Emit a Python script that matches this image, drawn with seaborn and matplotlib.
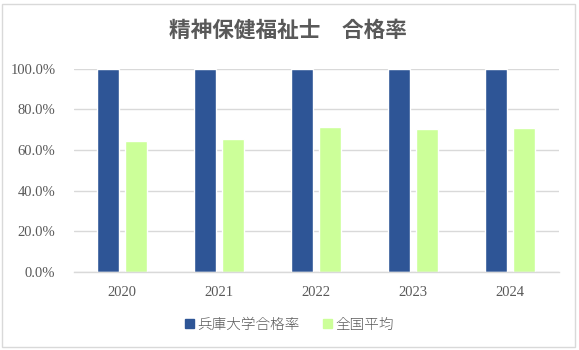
import matplotlib
matplotlib.use("Agg")
import matplotlib.pyplot as plt
from matplotlib.patches import Rectangle
from matplotlib.ticker import PercentFormatter
import seaborn as sns
import pandas as pd

years = ["2020", "2021", "2022", "2023", "2024"]
hyogo = [1.0, 1.0, 1.0, 1.0, 1.0]
national = [0.642, 0.652, 0.711, 0.701, 0.706]
series_names = ["兵庫大学合格率", "全国平均"]
colors = ["#2E5596", "#CCFF99"]
yticks = [0.0, 0.2, 0.4, 0.6, 0.8, 1.0]
title = "精神保健福祉士　合格率"

df = pd.DataFrame({
    "year": years * 2,
    "rate": hyogo + national,
    "series": [series_names[0]] * len(years) + [series_names[1]] * len(years),
})

sns.set_theme(style="white")
plt.rcParams["font.family"] = ["Liberation Serif", "Noto Sans CJK JP", "DejaVu Sans"]

W, H = 579, 350
fig = plt.figure(figsize=(W / 100, H / 100), dpi=100)
ax = fig.add_axes([73.5 / W, 1 - 272 / H, 485 / W, (272 - 68.5) / H])

sns.barplot(data=df, x="year", y="rate", hue="series", palette=colors,
            width=0.58, gap=0.21, ax=ax, saturation=1, legend=True, errorbar=None)

ax.set_ylim(0, 1.0)
ax.set_xlim(-0.5, len(years) - 0.5)
ax.set_yticks(yticks)
ax.yaxis.set_major_formatter(PercentFormatter(1.0, decimals=1))
ax.grid(axis="y", color="#d9d9d9", linewidth=1)
ax.set_axisbelow(True)
for s in ["top", "right", "left"]:
    ax.spines[s].set_visible(False)
ax.spines["bottom"].set_color("#d9d9d9")
ax.spines["bottom"].set_linewidth(1)
ax.tick_params(axis="both", length=0, colors="#595959", labelsize=10.5)
ax.tick_params(axis="y", pad=13)
ax.tick_params(axis="x", pad=10)
ax.set_xlabel("")
ax.set_ylabel("")

for lab in ax.get_xticklabels() + ax.get_yticklabels():
    lab.set_family(["Liberation Serif"])

ax.get_legend().remove()
handles = [Rectangle((0, 0), 1, 1, color=c) for c in colors]
leg = fig.legend(handles, series_names, loc="center", bbox_to_anchor=(0.5, 1 - 325 / H),
                 ncol=2, frameon=False, handlelength=0.6, handleheight=0.6,
                 handletextpad=0.25, columnspacing=1.6,
                 prop={"family": ["Noto Sans CJK JP"], "size": 10.5, "weight": "light"})
for t in leg.get_texts():
    t.set_color("#595959")

fig.text(288 / W, 1 - 30 / H, title, ha="center", va="center", fontsize=15.6,
         fontweight="bold", color="#595959", family=["Noto Sans CJK JP"])

fig.patches.append(Rectangle((2 / W, 1 - 347 / H), 573 / W, 343 / H, transform=fig.transFigure,
                             fill=False, edgecolor="#d9d9d9", linewidth=1))

fig.savefig("out.png", dpi=100)
